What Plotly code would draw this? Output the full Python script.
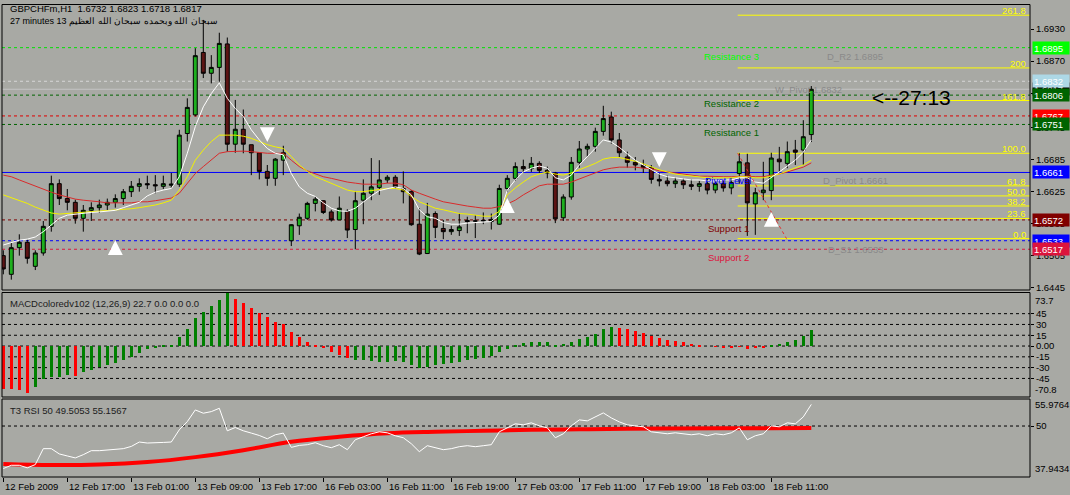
import plotly.graph_objects as go

BG = '#A8A9A4'
FONT = 'Liberation Sans'

# ---------------- data ----------------
bars = list(range(102))
opens = [1.6505,1.6470,1.6520,1.6530,1.6485,1.6510,1.6560,1.6640,1.6612,1.6605,
         1.6575,1.6590,1.6595,1.6600,1.6605,1.6612,1.6625,1.6635,1.6640,1.6638,
         1.6635,1.6637,1.6639,1.6734,1.6769,1.6886,1.6847,1.6858,1.6902,1.6714,
         1.6742,1.6713,1.6698,1.6663,1.6650,1.6684,1.6533,1.6561,1.6575,1.6603,
         1.6608,1.6587,1.6572,1.6588,1.6554,1.6609,1.6622,1.6633,1.6647,1.6652,
         1.6631,1.6625,1.6564,1.6509,1.6584,1.6556,1.6550,1.6552,1.6571,1.6570,
         1.6570,1.6569,1.6564,1.6631,1.6650,1.6672,1.6668,1.6678,1.6665,1.6660,
         1.6576,1.6615,1.6680,1.6705,1.6710,1.6738,1.6765,1.6722,1.6690,1.6680,
         1.6675,1.6670,1.6648,1.6645,1.6640,1.6645,1.6638,1.6635,1.6640,1.6628,
         1.6640,1.6632,1.6659,1.6679,1.6602,1.6623,1.6627,1.6686,1.6678,1.6703,
         1.6703,1.6732]
highs = [1.6515,1.6530,1.6545,1.6535,1.6515,1.6570,1.6655,1.6648,1.6630,1.6610,
         1.6600,1.6605,1.6610,1.6612,1.6620,1.6630,1.6645,1.6650,1.6655,1.6656,
         1.6655,1.6660,1.6741,1.6800,1.6894,1.6947,1.6881,1.6923,1.6914,1.6797,
         1.6779,1.6713,1.6698,1.6675,1.6688,1.6711,1.6564,1.6584,1.6606,1.6616,
         1.6609,1.6591,1.6616,1.6592,1.6625,1.6648,1.6688,1.6684,1.6656,1.6656,
         1.6663,1.6628,1.6594,1.6604,1.6588,1.6572,1.6561,1.6584,1.6578,1.6581,
         1.6586,1.6584,1.6638,1.6656,1.6680,1.6685,1.6690,1.6682,1.6672,1.6662,
         1.6620,1.6690,1.6720,1.6715,1.6745,1.6786,1.6775,1.6735,1.6700,1.6690,
         1.6685,1.6675,1.6660,1.6655,1.6652,1.6650,1.6648,1.6645,1.6650,1.6645,
         1.6648,1.6650,1.6697,1.6696,1.6632,1.6681,1.6698,1.6709,1.6719,1.6722,
         1.6759,1.6823]
lows = [1.6470,1.6460,1.6505,1.6490,1.6478,1.6505,1.6550,1.6600,1.6590,1.6565,
        1.6550,1.6570,1.6585,1.6590,1.6595,1.6600,1.6615,1.6625,1.6630,1.6622,
        1.6630,1.6632,1.6634,1.6719,1.6766,1.6838,1.6828,1.6831,1.6700,1.6698,
        1.6697,1.6656,1.6648,1.6636,1.6636,1.6656,1.6523,1.6544,1.6572,1.6588,
        1.6583,1.6569,1.6572,1.6538,1.6517,1.6564,1.6609,1.6619,1.6641,1.6631,
        1.6603,1.6561,1.6506,1.6508,1.6538,1.6536,1.6544,1.6542,1.6547,1.6538,
        1.6564,1.6554,1.6563,1.6625,1.6645,1.6660,1.6662,1.6660,1.6650,1.6566,
        1.6570,1.6610,1.6670,1.6690,1.6700,1.6730,1.6715,1.6690,1.6670,1.6665,
        1.6660,1.6640,1.6635,1.6635,1.6632,1.6630,1.6628,1.6625,1.6620,1.6622,
        1.6625,1.6620,1.6640,1.6542,1.6544,1.6609,1.6609,1.6663,1.6669,1.6675,
        1.6675,1.6718]
closes = [1.6480,1.6520,1.6530,1.6500,1.6510,1.6560,1.6640,1.6612,1.6605,1.6575,
          1.6590,1.6595,1.6600,1.6605,1.6612,1.6625,1.6635,1.6640,1.6638,1.6636,
          1.6640,1.6639,1.6731,1.6783,1.6880,1.6847,1.6858,1.6903,1.6714,1.6742,
          1.6714,1.6698,1.6663,1.6650,1.6686,1.6698,1.6563,1.6577,1.6603,1.6611,
          1.6586,1.6572,1.6594,1.6553,1.6608,1.6622,1.6634,1.6647,1.6652,1.6634,
          1.6625,1.6563,1.6508,1.6583,1.6558,1.6550,1.6554,1.6559,1.6569,1.6570,
          1.6571,1.6573,1.6631,1.6650,1.6672,1.6668,1.6678,1.6665,1.6660,1.6574,
          1.6615,1.6680,1.6705,1.6710,1.6738,1.6762,1.6722,1.6698,1.6680,1.6675,
          1.6670,1.6648,1.6645,1.6640,1.6645,1.6638,1.6635,1.6640,1.6628,1.6640,
          1.6632,1.6642,1.6681,1.6604,1.6623,1.6628,1.6688,1.6681,1.6700,1.6699,
          1.6728,1.6817]

ma_white = [1.6525,1.6530,1.6534,1.6536,1.6540,1.6550,1.6562,1.6575,1.6581,1.6583,
            1.6585,1.6586,1.6587,1.6588,1.6590,1.6595,1.6600,1.6605,1.6617,1.6624,
            1.6628,1.6631,1.6653,1.6697,1.6747,1.6784,1.6809,1.6829,1.6800,1.6781,
            1.6766,1.6741,1.6722,1.6706,1.6697,1.6694,1.6659,1.6634,1.6622,1.6616,
            1.6604,1.6594,1.6589,1.6588,1.6594,1.6606,1.6617,1.6627,1.6631,1.6634,
            1.6631,1.6619,1.6591,1.6578,1.6575,1.6567,1.6564,1.6564,1.6566,1.6567,
            1.6567,1.6569,1.6581,1.6628,1.6647,1.6662,1.6669,1.6673,1.6669,1.6651,
            1.6647,1.6656,1.6675,1.6690,1.6707,1.6722,1.6718,1.6708,1.6696,1.6684,
            1.6675,1.6666,1.6658,1.6653,1.6651,1.6649,1.6647,1.6647,1.6645,1.6645,
            1.6647,1.6647,1.6651,1.6651,1.6643,1.6641,1.6651,1.6662,1.6673,1.6684,
            1.6699,1.6722]
ma_yellow = [1.6619,1.6614,1.6609,1.6603,1.6596,1.6590,1.6585,1.6583,1.6584,1.6585,
             1.6586,1.6587,1.6588,1.6589,1.6590,1.6592,1.6593,1.6595,1.6597,1.6600,
             1.6604,1.6609,1.6628,1.6653,1.6684,1.6703,1.6719,1.6731,1.6731,1.6731,
             1.6729,1.6725,1.6719,1.6713,1.6709,1.6706,1.6691,1.6675,1.6663,1.6653,
             1.6647,1.6641,1.6634,1.6628,1.6625,1.6625,1.6627,1.6629,1.6631,1.6631,
             1.6628,1.6616,1.6606,1.6600,1.6594,1.6591,1.6588,1.6584,1.6583,1.6581,
             1.6579,1.6579,1.6588,1.6619,1.6632,1.6643,1.6653,1.6658,1.6662,1.6658,
             1.6656,1.6660,1.6666,1.6671,1.6678,1.6686,1.6689,1.6689,1.6686,1.6682,
             1.6677,1.6671,1.6666,1.6662,1.6658,1.6656,1.6654,1.6653,1.6651,1.6651,
             1.6651,1.6651,1.6653,1.6653,1.6651,1.6651,1.6654,1.6658,1.6664,1.6669,
             1.6675,1.6684]
ma_red = [1.6656,1.6653,1.6647,1.6641,1.6636,1.6630,1.6624,1.6619,1.6615,1.6611,
          1.6609,1.6608,1.6606,1.6604,1.6604,1.6604,1.6604,1.6606,1.6606,1.6608,
          1.6611,1.6613,1.6622,1.6641,1.6659,1.6672,1.6684,1.6697,1.6700,1.6701,
          1.6701,1.6700,1.6698,1.6697,1.6697,1.6697,1.6684,1.6672,1.6664,1.6658,
          1.6653,1.6650,1.6646,1.6643,1.6641,1.6639,1.6639,1.6639,1.6641,1.6641,
          1.6638,1.6628,1.6622,1.6616,1.6611,1.6606,1.6603,1.6600,1.6598,1.6596,
          1.6594,1.6594,1.6597,1.6602,1.6609,1.6619,1.6628,1.6636,1.6639,1.6639,
          1.6639,1.6643,1.6649,1.6654,1.6660,1.6666,1.6669,1.6671,1.6671,1.6671,
          1.6669,1.6668,1.6664,1.6662,1.6660,1.6658,1.6656,1.6654,1.6654,1.6653,
          1.6653,1.6653,1.6654,1.6654,1.6653,1.6653,1.6656,1.6658,1.6662,1.6666,
          1.6671,1.6679]

macd = [-59.7,-59.7,-61.0,-64.9,-56.5,-46.3,-43.5,-43.5,-40.3,-41.7,
        -35.7,-33.3,-29.6,-26.4,-23.2,-19.4,-14.9,-10.1,-4.2,-2.0,
        1.0,2.0,12.9,23.2,38.5,47.0,55.0,64.0,73.7,66.0,
        60.0,53.0,46.0,40.0,34.0,30.0,20.0,12.0,6.0,2.0,
        -3.0,-8.0,-12.0,-17.0,-19.0,-20.0,-21.0,-22.0,-22.0,-21.0,
        -22.0,-26.0,-30.0,-29.0,-27.0,-25.0,-24.0,-22.0,-20.0,-18.0,
        -16.0,-14.0,-8.0,-4.0,2.0,4.0,6.0,5.0,5.0,2.0,
        3.0,6.0,10.0,13.0,17.0,23.0,26.0,25.0,24.0,21.0,
        18.0,14.0,11.0,9.0,7.0,5.0,3.0,2.0,0.0,-1.0,
        -2.0,-2.0,-1.0,-4.0,-3.0,-2.0,1.0,3.0,5.0,8.0,
        14.0,22.7]
macd_dir = "RRRRGGGGGR" + "G" * 19 + "R" * 15 + "G" * 33 + "R" * 19 + "G" * 6

rsi_white = [39.84,40.62,40.62,40.01,40.79,44.59,44.59,43.33,42.85,42.38,
             43.16,44.11,44.11,44.28,44.35,44.59,45.13,46.18,45.94,45.94,
             46.08,46.18,49.10,51.06,53.84,53.06,53.44,54.24,48.86,49.64,
             48.86,48.31,47.74,46.96,47.91,48.31,44.90,45.37,45.54,46.01,
             45.30,44.82,45.54,44.35,46.72,47.43,48.15,48.62,48.38,47.67,
             47.20,45.77,43.87,45.30,44.82,44.35,44.59,45.06,45.30,45.06,
             45.30,45.54,48.62,49.57,50.52,50.28,50.76,50.04,49.57,47.20,
             48.15,50.04,51.47,51.23,52.18,53.13,51.94,50.99,50.28,50.04,
             49.81,48.62,48.38,48.15,48.38,48.15,47.91,48.15,47.67,48.15,
             47.91,48.38,49.57,46.72,47.67,48.15,50.04,49.81,50.76,50.52,
             52.18,55.16]
t3_bars = [0, 6, 12, 18, 24, 30, 36, 42, 48, 54, 60, 66, 72, 78, 84, 90, 96, 101]
rsi_t3 = [40.92,40.67,40.79,41.38,42.57,44.23,46.25,47.43,48.27,48.62,48.86,49.10,
          49.22,49.33,49.40,49.45,49.48,49.51]

tick_bars = [0, 8, 16, 24, 32, 40, 48, 56, 64, 72, 80, 88, 96]
tick_labels = ["12 Feb 2009", "12 Feb 17:00", "13 Feb 01:00", "13 Feb 09:00", "13 Feb 17:00",
               "16 Feb 03:00", "16 Feb 11:00", "16 Feb 19:00", "17 Feb 03:00", "17 Feb 11:00",
               "17 Feb 19:00", "18 Feb 03:00", "18 Feb 11:00"]
price_ticks = [1.6930, 1.6870, 1.6810, 1.6745, 1.6685, 1.6625, 1.6565, 1.6505, 1.6445]
macd_ticks = [45, 30, 15, 0, -15, -30, -45]
macd_tick_text = ["45", "30", "15", "0.00", "-15", "-30", "-45"]
macd_max, macd_min = 73.7, -70.8
rsi_max, rsi_min, rsi_level = 55.9764, 37.9434, 50

level_prices = [1.6895, 1.6832, 1.6806, 1.6767, 1.6751, 1.6661, 1.6572, 1.6533, 1.6517]
level_colors = ['#00E000', '#D6D6D6', '#006400', '#E00000', '#006400', '#0000FF', '#800000', '#0000FF', '#DC143C']
level_dash = ['dash', 'dash', 'dash', 'dash', 'dash', 'solid', 'dash', 'dash', 'dash']
box_colors = ['#00FF00', '#ADD8E6', '#006400', '#FF0000', '#006400', '#0000FF', '#800000', '#0000FF', '#DC143C']
bid_price = 1.6817

pivot_names = ['Resistance 3', 'Resistance 2', 'Resistance 1', 'Pivot Level', 'Support 1', 'Support 2']
pivot_prices = [1.6895, 1.6806, 1.6751, 1.6661, 1.6572, 1.6517]
pivot_colors = ['#00FF00', '#006400', '#006400', '#0000FF', '#800000', '#DC143C']
pivot_bars = [87.3, 87.3, 87.3, 87.5, 87.8, 87.8]
info_names = ['D_R2 1.6895', 'W_Pivot 1.6832', 'D_Pivot 1.6661', 'D_S1 1.6533']
info_prices = [1.6895, 1.6832, 1.6661, 1.6533]
info_bars = [102.7, 96.2, 102.2, 102.8]

fib_100, fib_0 = 1.6697, 1.6537
fib_ratios = [2.618, 2.0, 1.618, 1.0, 0.618, 0.5, 0.382, 0.236, 0.0]
fib_labels = ['261.8', '200', '161.8', '100.0', '61.8', '50.0', '38.2', '23.6', '0.0']
fib_start_bar, fib_end_bar = 91.8, 97.9

arrow_up = [(14, 1.6534), (63, 1.6613), (96, 1.6587)]
arrow_down = [(33, 1.6718), (82, 1.6671)]

timer_text = "<--27:13"
timer_bar, timer_price = 108.3, 1.6801

# ---------------- layout constants ----------------
W, H = 1070, 495
ML, MR, MT, MB = 2, 40, 5, 18
PH = H - MT - MB          # plot height in px
XR = [-0.1625, 128.3375]  # bar-index range across the plot width


def py(pix):  # page pixel row -> paper y
    return (H - MB - pix) / PH


dom_main = [py(290), py(5)]
dom_macd = [py(397), py(293)]
dom_rsi = [py(476.5), py(401)]

fig = go.Figure()

fig.add_trace(go.Candlestick(
    x=bars, open=opens, high=highs, low=lows, close=closes,
    increasing=dict(line=dict(color='black', width=1), fillcolor='#1EB01E'),
    decreasing=dict(line=dict(color='black', width=1), fillcolor='#5C1414'),
    whiskerwidth=0, hoverinfo='skip', xaxis='x', yaxis='y'))

for vals, col in ((ma_red, '#D92B2B'), (ma_yellow, '#F2F200'), (ma_white, '#FFFFFF')):
    fig.add_trace(go.Scatter(x=bars, y=vals, mode='lines', line=dict(color=col, width=1),
                             hoverinfo='skip', xaxis='x', yaxis='y'))

fig.add_trace(go.Bar(x=bars, y=macd, width=0.42,
                     marker=dict(color=['#008000' if d == 'G' else '#FF0000' for d in macd_dir],
                                 line=dict(width=0)),
                     hoverinfo='skip', xaxis='x', yaxis='y2'))

fig.add_trace(go.Scatter(x=t3_bars, y=rsi_t3, mode='lines',
                         line=dict(color='#FF0000', width=4, shape='spline'),
                         hoverinfo='skip', xaxis='x', yaxis='y3'))
fig.add_trace(go.Scatter(x=bars, y=rsi_white, mode='lines', line=dict(color='#FFFFFF', width=1),
                         hoverinfo='skip', xaxis='x', yaxis='y3'))

shapes = []
for p, c, d in zip(level_prices, level_colors, level_dash):
    shapes.append(dict(type='line', xref='paper', x0=0, x1=1, yref='y', y0=p, y1=p,
                       line=dict(color=c, width=1, dash='3px,3px' if d == 'dash' else 'solid'),
                       layer='below'))
shapes.append(dict(type='line', xref='paper', x0=0, x1=1, yref='y', y0=bid_price, y1=bid_price,
                   line=dict(color='#C4C4C4', width=1), layer='below'))
for r in fib_ratios:
    lv = fib_0 + r * (fib_100 - fib_0)
    shapes.append(dict(type='line', xref='x', x0=fib_start_bar, x1=XR[1], yref='y', y0=lv, y1=lv,
                       line=dict(color='#FFFF00', width=1), layer='below'))
shapes.append(dict(type='line', xref='x', x0=fib_start_bar, x1=fib_end_bar, yref='y',
                   y0=fib_100, y1=fib_0, line=dict(color='#E03030', width=1, dash='3px,3px'),
                   layer='above'))
for v in macd_ticks:
    shapes.append(dict(type='line', xref='paper', x0=0, x1=1, yref='y2', y0=v, y1=v,
                       line=dict(color='black', width=1, dash='3px,3px'), layer='below'))
shapes.append(dict(type='line', xref='paper', x0=0, x1=1, yref='y3', y0=rsi_level, y1=rsi_level,
                   line=dict(color='black', width=1, dash='3px,3px'), layer='below'))
for top, bot in ((4.5, 290), (292.5, 397), (399, 477)):
    shapes.append(dict(type='rect', xref='paper', x0=0, x1=1, yref='paper', y0=py(bot), y1=py(top),
                       line=dict(color='black', width=1), fillcolor='rgba(0,0,0,0)', layer='above'))

ann = []
small = dict(family=FONT, size=9.5, color='black')
ann.append(dict(xref='paper', yref='paper', x=6 / 1028, y=py(9), xanchor='left', yanchor='middle',
                text='GBPCHFm,H1  1.6732 1.6823 1.6718 1.6817', showarrow=False,
                font=dict(family=FONT, size=9.5, color='black')))
ann.append(dict(xref='paper', yref='paper', x=6 / 1028, y=py(21), xanchor='left', yanchor='middle',
                text='27 minutes 13 سبحان الله وبحمده سبحان الله العظيم', showarrow=False,
                font=dict(family=FONT, size=9, color='black')))
ann.append(dict(xref='paper', yref='paper', x=6 / 1028, y=py(303), xanchor='left', yanchor='middle',
                text='MACDcoloredv102 (12,26,9) 22.7 0.0 0.0 0.0', showarrow=False,
                font=dict(family=FONT, size=9.5, color='#202020')))
ann.append(dict(xref='paper', yref='paper', x=6 / 1028, y=py(410), xanchor='left', yanchor='middle',
                text='T3 RSI 50 49.5053 55.1567', showarrow=False,
                font=dict(family=FONT, size=9.5, color='#202020')))
for b, t in zip(tick_bars, tick_labels):
    ann.append(dict(xref='x', yref='paper', x=b, y=py(486), xanchor='left', yanchor='middle',
                    xshift=0, text=t, showarrow=False, font=small))
ann.append(dict(xref='paper', yref='paper', x=1, y=py(300), xanchor='left', yanchor='middle', xshift=3,
                text=f'{macd_max}', showarrow=False, font=small))
ann.append(dict(xref='paper', yref='paper', x=1, y=py(389), xanchor='left', yanchor='middle', xshift=3,
                text=f'{macd_min}', showarrow=False, font=small))
ann.append(dict(xref='paper', yref='paper', x=1, y=py(404), xanchor='left', yanchor='middle', xshift=3,
                text=f'{rsi_max}', showarrow=False, font=small))
ann.append(dict(xref='paper', yref='paper', x=1, y=py(468), xanchor='left', yanchor='middle', xshift=3,
                text=f'{rsi_min}', showarrow=False, font=small))
for n, p, c, b in zip(pivot_names, pivot_prices, pivot_colors, pivot_bars):
    ann.append(dict(xref='x', yref='y', x=b, y=p, xanchor='left', yanchor='top', yshift=-1,
                    text=n, showarrow=False, font=dict(family=FONT, size=9.5, color=c)))
for n, p, b in zip(info_names, info_prices, info_bars):
    ann.append(dict(xref='x', yref='y', x=b, y=p, xanchor='left', yanchor='top', yshift=-1,
                    text=n, showarrow=False, font=dict(family=FONT, size=9.5, color='#8A8A8A')))
for r, t in zip(fib_ratios, fib_labels):
    lv = fib_0 + r * (fib_100 - fib_0)
    ann.append(dict(xref='paper', yref='y', x=1, y=lv, xanchor='right', yanchor='bottom', xshift=-2,
                    yshift=-3, text=t, showarrow=False, font=dict(family=FONT, size=9.5, color='#FFFF00')))
for b, p in arrow_up:
    ann.append(dict(xref='x', yref='y', x=b, y=p, ax=0, ay=13, text='', showarrow=True,
                    arrowhead=2, arrowsize=0.85, arrowwidth=3.5, arrowcolor='white'))
for b, p in arrow_down:
    ann.append(dict(xref='x', yref='y', x=b, y=p, ax=0, ay=-13, text='', showarrow=True,
                    arrowhead=2, arrowsize=0.85, arrowwidth=3.5, arrowcolor='white'))
ann.append(dict(xref='x', yref='y', x=timer_bar, y=timer_price, xanchor='left', yanchor='middle',
                text=timer_text, showarrow=False, font=dict(family=FONT, size=21, color='black')))
ann.append(dict(xref='paper', yref='y', x=1, y=bid_price, xanchor='left', yanchor='middle', xshift=2,
                text=f'{bid_price:.4f}', showarrow=False, bgcolor='black', width=34, height=10,
                borderpad=1, align='left', font=dict(family=FONT, size=9.5, color='white')))
for p, c in zip(level_prices, box_colors):
    ann.append(dict(xref='paper', yref='y', x=1, y=p, xanchor='left', yanchor='middle', xshift=2,
                    text=f'{p:.4f}', showarrow=False, bgcolor=c, width=34, height=10, borderpad=1,
                    align='left', font=dict(family=FONT, size=9.5, color='white')))

axis_common = dict(showgrid=False, zeroline=False, ticks='outside', ticklen=3, tickcolor='black',
                   tickfont=small, side='right', anchor='x', showline=False, fixedrange=True)

fig.update_layout(
    width=W, height=H, margin=dict(l=ML, r=MR, t=MT, b=MB),
    paper_bgcolor=BG, plot_bgcolor=BG, showlegend=False, bargap=0,
    font=dict(family=FONT, size=10, color='black'),
    xaxis=dict(domain=[0, 1], range=XR, anchor='y3', tickvals=tick_bars, showticklabels=False,
               ticks='outside', ticklen=4, tickcolor='black', showgrid=False, zeroline=False,
               rangeslider=dict(visible=False), fixedrange=True),
    yaxis=dict(domain=dom_main, range=[1.64406, 1.69750], tickvals=price_ticks,
               ticktext=[f'{v:.4f}' for v in price_ticks], **axis_common),
    yaxis2=dict(domain=dom_macd, range=[macd_min, macd_max], tickvals=macd_ticks,
                ticktext=macd_tick_text, **axis_common),
    yaxis3=dict(domain=dom_rsi, range=[rsi_min, rsi_max], tickvals=[rsi_level],
                ticktext=[str(rsi_level)], **axis_common),
    shapes=shapes, annotations=ann,
)

fig.write_html('out.html', config={'displayModeBar': False},
               post_script="document.body.style.margin='0';document.body.style.background='%s';" % BG)
